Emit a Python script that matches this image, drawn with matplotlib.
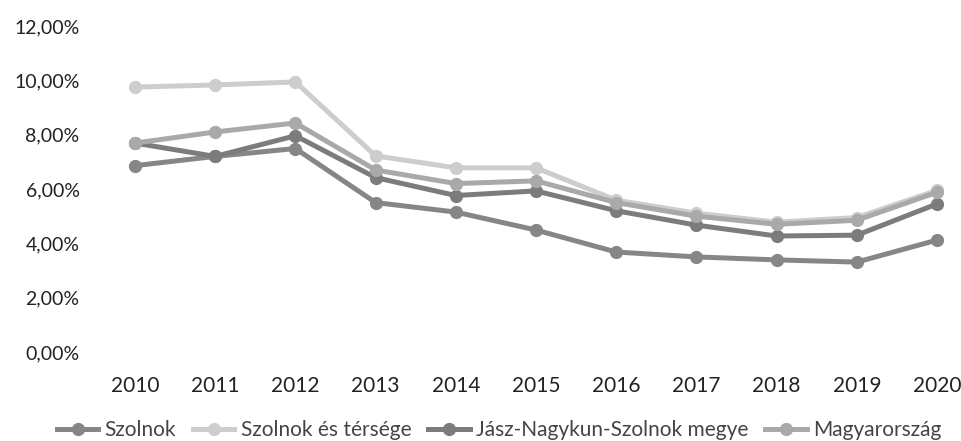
import matplotlib
matplotlib.use("Agg")
import matplotlib.pyplot as plt
from matplotlib.ticker import FuncFormatter

years = ["2010", "2011", "2012", "2013", "2014", "2015", "2016", "2017", "2018", "2019", "2020"]
szolnok = [6.86, 7.20, 7.49, 5.50, 5.15, 4.49, 3.68, 3.50, 3.39, 3.31, 4.12]
szolnok_tersege = [9.75, 9.83, 9.94, 7.22, 6.78, 6.78, 5.59, 5.11, 4.78, 4.95, 5.95]
megye = [7.69, 7.20, 7.96, 6.42, 5.76, 5.93, 5.20, 4.67, 4.27, 4.30, 5.45]
magyarorszag = [7.69, 8.10, 8.43, 6.70, 6.20, 6.30, 5.50, 5.00, 4.70, 4.85, 5.88]
yticks = [0, 2, 4, 6, 8, 10, 12]

plt.rcParams['font.family'] = ['Lato', 'DejaVu Sans']

fig = plt.figure(figsize=(9.61, 4.41), dpi=100)
x0, unit = 135, 80.2
left = x0 - unit / 2
ax = fig.add_axes([left/961, 1-352/441, 1-left/961, (352-26)/441])

x = list(range(len(years)))
series = [
    ("Szolnok", szolnok, "#868686"),
    ("Szolnok és térsége", szolnok_tersege, "#cdcdcd"),
    ("Jász-Nagykun-Szolnok megye", megye, "#7c7c7c"),
    ("Magyarország", magyarorszag, "#a9a9a9"),
]
order = [1, 3, 2, 0]
handles = {}
for i in order:
    name, vals, col = series[i]
    h, = ax.plot(x, vals, "-", color=col, lw=3.6, marker="o", ms=8.5,
                 markerfacecolor=col, markeredgecolor=col, label=name, zorder=3 + i)
    handles[i] = h

ax.set_xlim(-0.5, (961 - x0) / unit)
ax.set_ylim(0, 12)
ax.set_xticks(x)
ax.set_xticklabels(years)
ax.set_yticks(yticks)
ax.yaxis.set_major_formatter(FuncFormatter(lambda v, p: f"{v:.2f}".replace(".", ",") + "%"))
for s in ax.spines.values():
    s.set_visible(False)
ax.tick_params(axis="both", length=0, colors="#222222")
ax.tick_params(axis="x", pad=17, labelsize=15)
ax.tick_params(axis="y", pad=11, labelsize=14)

leg = fig.legend([handles[i] for i in range(4)], [series[i][0] for i in range(4)],
                 loc="center", bbox_to_anchor=(499/961, 1-430/441), ncol=4, frameon=False,
                 fontsize=15, handlelength=2.0, handletextpad=0.3, columnspacing=0.8,
                 labelcolor="#444444")

fig.savefig("out.png", dpi=100)
